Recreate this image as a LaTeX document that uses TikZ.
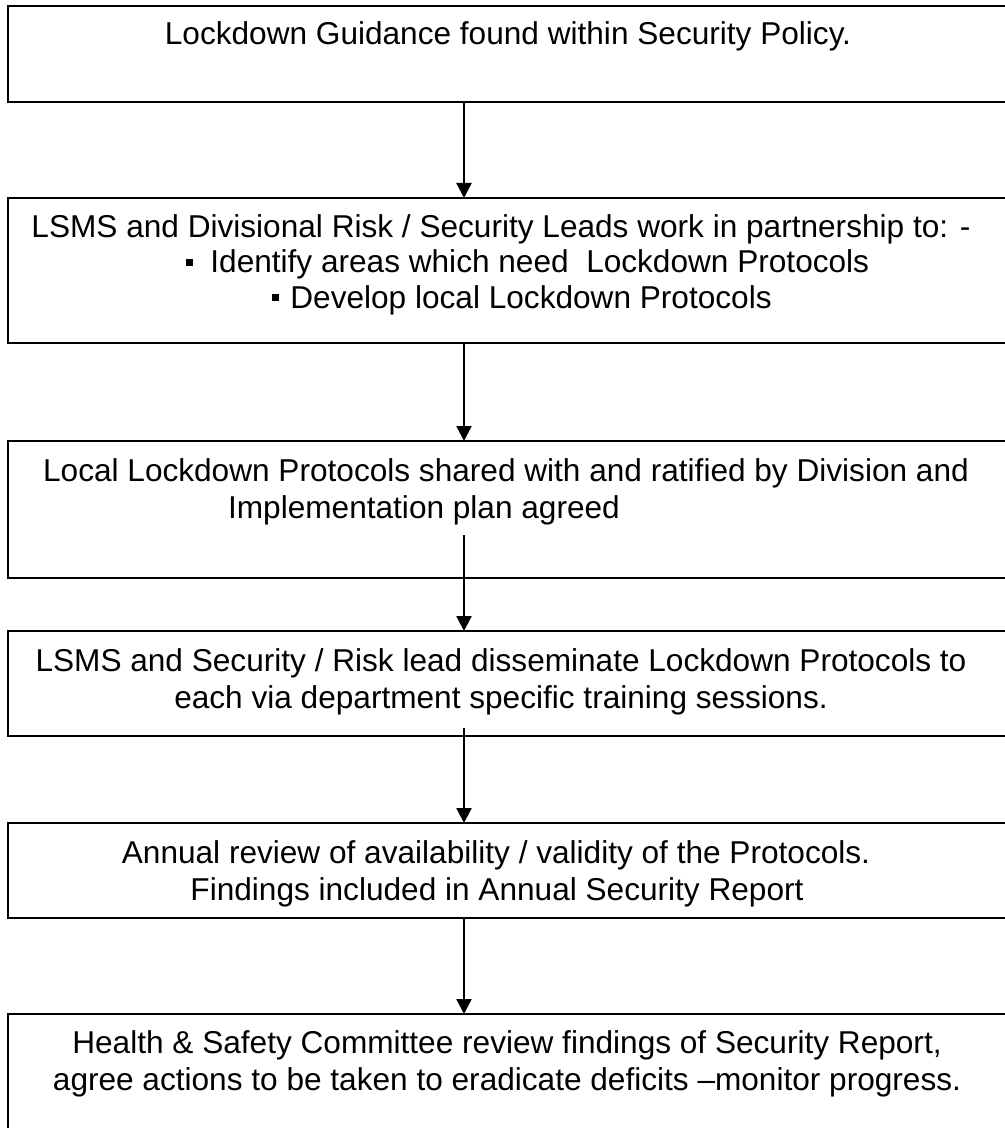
\documentclass[tikz,border=0pt]{standalone}
\usepackage{fontspec}
\setmainfont{Liberation Sans}
\usetikzlibrary{arrows.meta}

\newcommand{\sqbullet}{\rule[3.6pt]{3.5pt}{3.5pt}}

\begin{document}
\begin{tikzpicture}[x = 0.5pt, y = -0.5pt,
  box/.style = {draw, line width = 1pt, anchor = north west, inner sep = 0pt,
    outer sep = 0pt, minimum width = 500pt},
  txt/.style = {anchor = base, inner sep = 0pt, font = \fontsize{15.8}{18.5}\selectfont},
  flow/.style = {line width = 1.2pt, -{Triangle[width = 7.5pt, length = 7.5pt]}}]
  \useasboundingbox (0, 0) rectangle (1005, 1128);

  % the six steps
  \node[box, minimum height = 48pt]   (policy)   at (8, 6)    {};
  \node[box, minimum height = 72.5pt] (partners) at (8, 198)  {};
  \node[box, minimum height = 68.5pt] (ratify)   at (8, 441)  {};
  \node[box, minimum height = 52.5pt] (training) at (8, 631)  {};
  \node[box, minimum height = 47.5pt] (review)   at (8, 823)  {};
  \node[box, minimum height = 65pt]   (hsc)      at (8, 1014) {};

  \node[txt] (t1) at (508, 45) {Lockdown Guidance found within Security Policy.};

  \node[txt] (t2) at (501, 238) {LSMS and Divisional Risk / Security Leads work in partnership to: -};
  \node[txt, anchor = base west] (t2a) at (186, 273)
    {\sqbullet\hspace{8.5pt}Identify areas which need~ Lockdown Protocols};
  \node[txt, anchor = base west] (t2b) at (272, 308)
    {\sqbullet\hspace{5.5pt}Develop local Lockdown Protocols};

  \node[txt] (t3a) at (506, 481) {Local Lockdown Protocols shared with and ratified by Division and};
  \node[txt] (t3b) at (424, 518) {Implementation plan agreed};

  \node[txt] (t4a) at (501, 671) {LSMS and Security / Risk lead disseminate Lockdown Protocols to};
  \node[txt] (t4b) at (501, 708) {each via department specific training sessions.};

  \node[txt] (t5a) at (496, 863) {Annual review of availability / validity of the Protocols.};
  \node[txt] (t5b) at (497, 900) {Findings included in Annual Security Report};

  \node[txt] (t6a) at (507, 1053) {Health \& Safety Committee review findings of Security Report,};
  \node[txt] (t6b) at (507, 1090) {agree actions to be taken to eradicate deficits –monitor progress.};

  % connectors
  \coordinate (axis) at (464, 0);
  \coordinate (from3) at (464, 535);
  \coordinate (from4) at (464, 728);
  \draw[flow] (policy.south -| axis) -- (partners.north -| axis);
  \draw[flow] (partners.south -| axis) -- (ratify.north -| axis);
  \draw[flow] (from3) -- (training.north -| axis);
  \draw[flow] (from4) -- (review.north -| axis);
  \draw[flow] (review.south -| axis) -- (hsc.north -| axis);
\end{tikzpicture}
\end{document}
